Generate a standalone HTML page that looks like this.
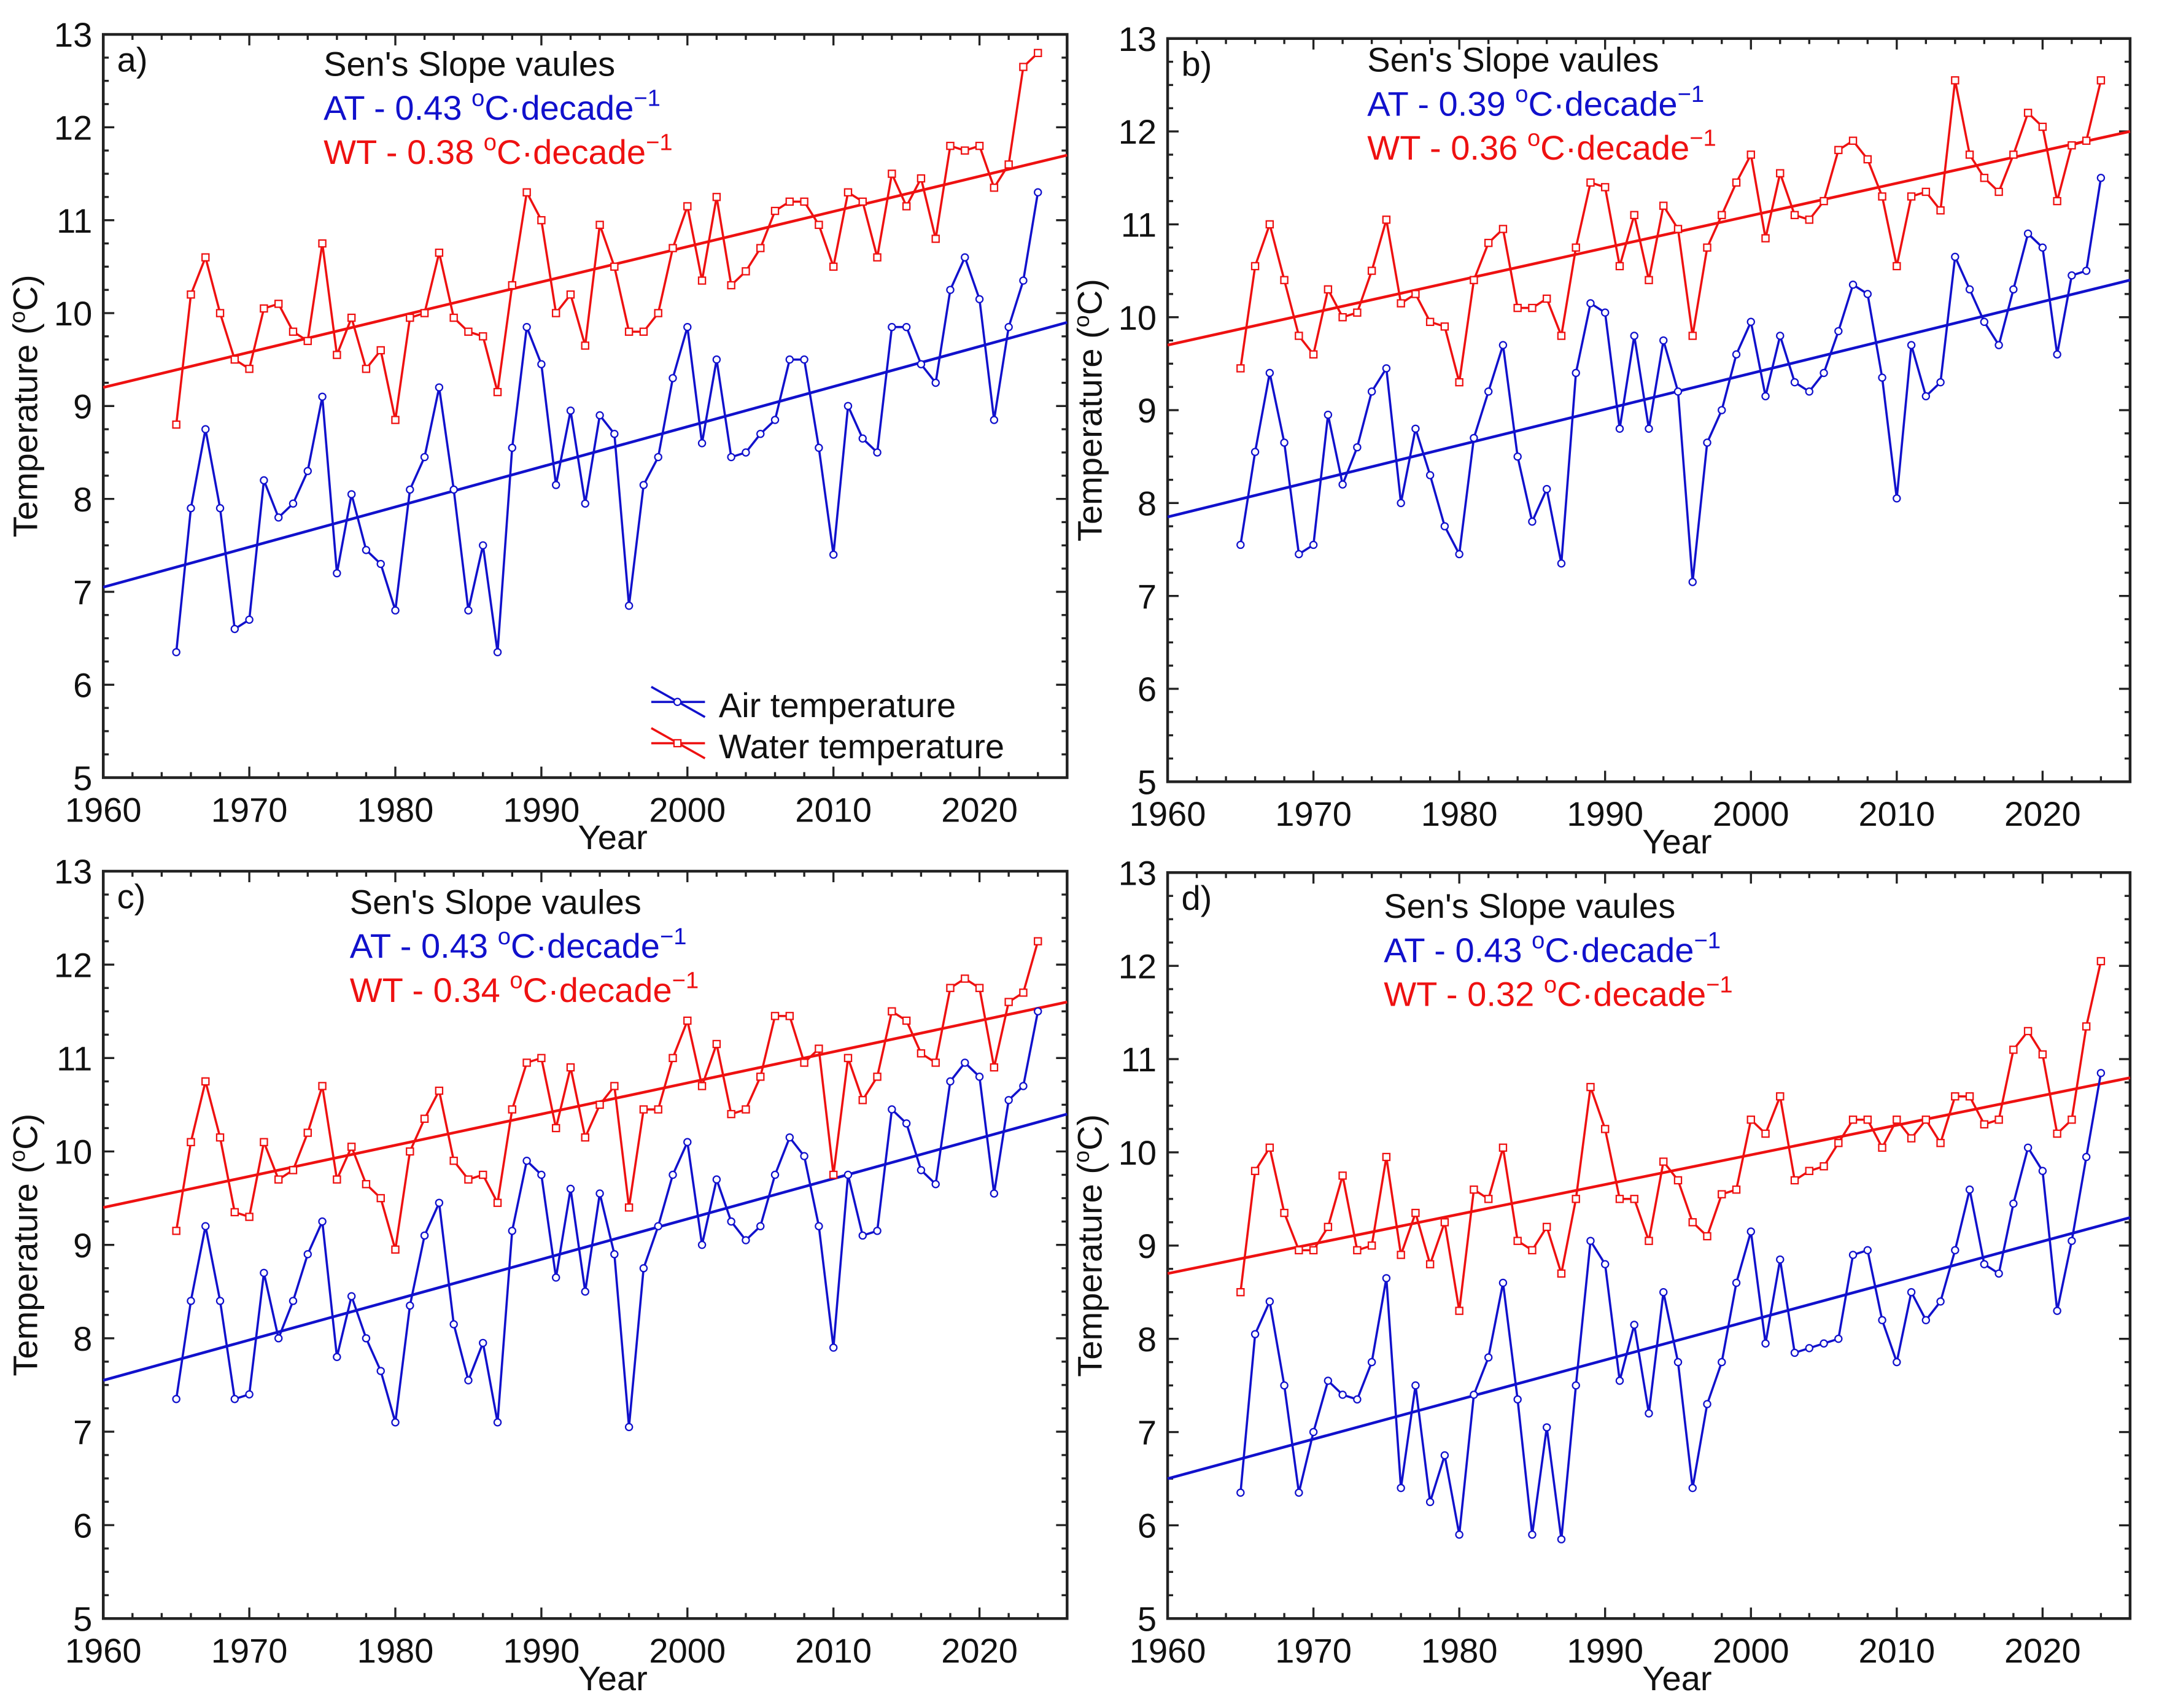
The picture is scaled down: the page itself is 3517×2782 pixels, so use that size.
<!DOCTYPE html>
<html><head><meta charset="utf-8"><style>
html,body{margin:0;padding:0;background:#fff;}
svg{display:block;font-family:"Liberation Sans Narrow","Liberation Sans",sans-serif;}
</style></head><body>
<svg id="fig" width="3517" height="2782" viewBox="0 0 1568 1241" preserveAspectRatio="none" xmlns="http://www.w3.org/2000/svg"></svg>
<script>
const years = Array.from({length:60},(_,i)=>1965+i);
const atA = [6.35,7.9,8.75,7.9,6.6,6.7,8.2,7.8,7.95,8.3,9.1,7.2,8.05,7.45,7.3,6.8,8.1,8.45,9.2,8.1,6.8,7.5,6.35,8.55,9.85,9.45,8.15,8.95,7.95,8.9,8.7,6.85,8.15,8.45,9.3,9.85,8.6,9.5,8.45,8.5,8.7,8.85,9.5,9.5,8.55,7.4,9.0,8.65,8.5,9.85,9.85,9.45,9.25,10.25,10.6,10.15,8.85,9.85,10.35,11.3];
const wtA = [8.8,10.2,10.6,10.0,9.5,9.4,10.05,10.1,9.8,9.7,10.75,9.55,9.95,9.4,9.6,8.85,9.95,10.0,10.65,9.95,9.8,9.75,9.15,10.3,11.3,11.0,10.0,10.2,9.65,10.95,10.5,9.8,9.8,10.0,10.7,11.15,10.35,11.25,10.3,10.45,10.7,11.1,11.2,11.2,10.95,10.5,11.3,11.2,10.6,11.5,11.15,11.45,10.8,11.8,11.75,11.8,11.35,11.6,12.65,12.8];
const atB = [7.55,8.55,9.4,8.65,7.45,7.55,8.95,8.2,8.6,9.2,9.45,8.0,8.8,8.3,7.75,7.45,8.7,9.2,9.7,8.5,7.8,8.15,7.35,9.4,10.15,10.05,8.8,9.8,8.8,9.75,9.2,7.15,8.65,9.0,9.6,9.95,9.15,9.8,9.3,9.2,9.4,9.85,10.35,10.25,9.35,8.05,9.7,9.15,9.3,10.65,10.3,9.95,9.7,10.3,10.9,10.75,9.6,10.45,10.5,11.5];
const wtB = [9.45,10.55,11.0,10.4,9.8,9.6,10.3,10.0,10.05,10.5,11.05,10.15,10.25,9.95,9.9,9.3,10.4,10.8,10.95,10.1,10.1,10.2,9.8,10.75,11.45,11.4,10.55,11.1,10.4,11.2,10.95,9.8,10.75,11.1,11.45,11.75,10.85,11.55,11.1,11.05,11.25,11.8,11.9,11.7,11.3,10.55,11.3,11.35,11.15,12.55,11.75,11.5,11.35,11.75,12.2,12.05,11.25,11.85,11.9,12.55];
const atC = [7.35,8.4,9.2,8.4,7.35,7.4,8.7,8.0,8.4,8.9,9.25,7.8,8.45,8.0,7.65,7.1,8.35,9.1,9.45,8.15,7.55,7.95,7.1,9.15,9.9,9.75,8.65,9.6,8.5,9.55,8.9,7.05,8.75,9.2,9.75,10.1,9.0,9.7,9.25,9.05,9.2,9.75,10.15,9.95,9.2,7.9,9.75,9.1,9.15,10.45,10.3,9.8,9.65,10.75,10.95,10.8,9.55,10.55,10.7,11.5];
const wtC = [9.15,10.1,10.75,10.15,9.35,9.3,10.1,9.7,9.8,10.2,10.7,9.7,10.05,9.65,9.5,8.95,10.0,10.35,10.65,9.9,9.7,9.75,9.45,10.45,10.95,11.0,10.25,10.9,10.15,10.5,10.7,9.4,10.45,10.45,11.0,11.4,10.7,11.15,10.4,10.45,10.8,11.45,11.45,10.95,11.1,9.75,11.0,10.55,10.8,11.5,11.4,11.05,10.95,11.75,11.85,11.75,10.9,11.6,11.7,12.25];
const atD = [6.35,8.05,8.4,7.5,6.35,7.0,7.55,7.4,7.35,7.75,8.65,6.4,7.5,6.25,6.75,5.9,7.4,7.8,8.6,7.35,5.9,7.05,5.85,7.5,9.05,8.8,7.55,8.15,7.2,8.5,7.75,6.4,7.3,7.75,8.6,9.15,7.95,8.85,7.85,7.9,7.95,8.0,8.9,8.95,8.2,7.75,8.5,8.2,8.4,8.95,9.6,8.8,8.7,9.45,10.05,9.8,8.3,9.05,9.95,10.85];
const wtD = [8.5,9.8,10.05,9.35,8.95,8.95,9.2,9.75,8.95,9.0,9.95,8.9,9.35,8.8,9.25,8.3,9.6,9.5,10.05,9.05,8.95,9.2,8.7,9.5,10.7,10.25,9.5,9.5,9.05,9.9,9.7,9.25,9.1,9.55,9.6,10.35,10.2,10.6,9.7,9.8,9.85,10.1,10.35,10.35,10.05,10.35,10.15,10.35,10.1,10.6,10.6,10.3,10.35,11.1,11.3,11.05,10.2,10.35,11.35,12.05];
// trend lines: [value at 1960, value at 2026]
const trendAtA=[7.05,9.9], trendWtA=[9.2,11.7];
const trendAtB=[7.85,10.4], trendWtB=[9.7,12.0];
const trendAtC=[7.55,10.4], trendWtC=[9.4,11.6];
const trendAtD=[6.5,9.3], trendWtD=[8.7,10.8];
const yTicks=[5,6,7,8,9,10,11,12,13];
const xTicks=[1960,1970,1980,1990,2000,2010,2020];
const slopeAT=["0.43","0.39","0.43","0.43"];
const slopeWT=["0.38","0.36","0.34","0.32"];

const NS="http://www.w3.org/2000/svg";
const svg=document.getElementById('fig');
function mk(tag,attrs,parent){const e=document.createElementNS(NS,tag);for(const k in attrs)e.setAttribute(k,attrs[k]);(parent||svg).appendChild(e);return e;}

const panels=[
 {id:'a',L:75,R:775,T:25,B:565,at:atA,wt:wtA,tat:trendAtA,twt:trendWtA,tx:235,ty:55,yr:445,legend:true},
 {id:'b',L:848,R:1547,T:28,B:568,at:atB,wt:wtB,tat:trendAtB,twt:trendWtB,tx:993,ty:52,yr:1218},
 {id:'c',L:75,R:775,T:633,B:1176,at:atC,wt:wtC,tat:trendAtC,twt:trendWtC,tx:254,ty:664,yr:445},
 {id:'d',L:848,R:1547,T:634,B:1176,at:atD,wt:wtD,tat:trendAtD,twt:trendWtD,tx:1005,ty:667,yr:1218}
];

panels.forEach((p,pi)=>{
 const g=mk('g',{});
 
 
 const pxYr=(p.R-p.L)/66;
 const X=y=>p.L+(y-1960)*pxYr;
 const Y=v=>p.B-(v-5)*(p.B-p.T)/8;
 const frame=mk('rect',{x:p.L,y:p.T,width:p.R-p.L,height:p.B-p.T,fill:'none',stroke:'#222','stroke-width':2},g);
 
 
 // minor ticks
 for(let yr=1960;yr<=2026;yr+=2){
  const len=(yr%10===0)?8:4;
  mk('line',{x1:X(yr),x2:X(yr),y1:p.B,y2:p.B-len,stroke:'#222','stroke-width':1.5},g);
  mk('line',{x1:X(yr),x2:X(yr),y1:p.T,y2:p.T+len,stroke:'#222','stroke-width':1.5},g);
 }
 for(let v=5;v<=13;v+=0.25){
  const len=(Math.abs(v-Math.round(v))<1e-6)?8:4;
  mk('line',{x1:p.L,x2:p.L+len,y1:Y(v),y2:Y(v),stroke:'#222','stroke-width':1.5},g);
  mk('line',{x1:p.R,x2:p.R-len,y1:Y(v),y2:Y(v),stroke:'#222','stroke-width':1.5},g);
 }
 yTicks.forEach(v=>{
  const t=mk('text',{x:p.L-8,y:Y(v)+9,'text-anchor':'end','font-size':25,fill:'#111'},g);
  t.textContent=v;
  
  
 });
 xTicks.forEach(v=>{
  const t=mk('text',{x:X(v),y:p.B+32,'text-anchor':'middle','font-size':25,fill:'#111'},g);
  t.textContent=v;
  
  
 });
 const xt=mk('text',{x:p.yr,y:p.B+52,'text-anchor':'middle','font-size':25,fill:'#111'},g);
 xt.textContent='Year';
 
 
 const cy=(p.T+p.B)/2, cx=p.L-48;
 const yt=mk('text',{x:cx,y:cy,'text-anchor':'middle','font-size':25,fill:'#111',transform:`rotate(-90 ${cx} ${cy})`},g);
 yt.innerHTML='Temperature (<tspan font-size="16" dy="-9">o</tspan><tspan dy="9">C)</tspan>';
 
 
 const lt=mk('text',{x:p.L+10,y:p.T+27,'font-size':25,fill:'#111'},g);
 lt.textContent=p.id+')';
 
 
 // trend lines
 [[p.twt,'#ee1111'],[p.tat,'#1111cc']].forEach(([tr,c])=>{
  const l=mk('line',{x1:X(1960),y1:Y(tr[0]),x2:X(2026),y2:Y(tr[1]),stroke:c,'stroke-width':2},g);
  
  
 });
 // series
 [[p.wt,'#ee1111','sq'],[p.at,'#1111cc','ci']].forEach(([arr,c,m])=>{
  const pl=mk('polyline',{points:arr.map((v,i)=>X(years[i])+','+Y(v)).join(' '),fill:'none',stroke:c,'stroke-width':1.6},g);
  
  
  arr.forEach((v,i)=>{
   let e;
   if(m==='sq') e=mk('rect',{x:X(years[i])-2.5,y:Y(v)-2.5,width:5,height:5,fill:'#fff',stroke:c,'stroke-width':1},g);
   else e=mk('circle',{cx:X(years[i]),cy:Y(v),r:2.5,fill:'#fff',stroke:c,'stroke-width':1},g);
   
   
  });
 });
 // annotations
 const a1=mk('text',{x:p.tx,y:p.ty,'font-size':25,fill:'#111'},g);
 a1.textContent="Sen's Slope vaules";
 
 
 const a2=mk('text',{x:p.tx,y:p.ty+32,'font-size':25,fill:'#1111cc'},g);
 a2.innerHTML='AT - '+slopeAT[pi]+' <tspan font-size="17" dy="-10">o</tspan><tspan dy="10">C·decade</tspan><tspan font-size="17" dy="-10">−1</tspan>';
 
 
 const a3=mk('text',{x:p.tx,y:p.ty+64,'font-size':25,fill:'#ee1111'},g);
 a3.innerHTML='WT - '+slopeWT[pi]+' <tspan font-size="17" dy="-10">o</tspan><tspan dy="10">C·decade</tspan><tspan font-size="17" dy="-10">−1</tspan>';
 
 
 if(p.legend){
  const lg=mk('g',{},g);
  
  
  [['Air temperature','#1111cc',513,'ci'],['Water temperature','#ee1111',543,'sq']].forEach(([txt,c,y,m])=>{
   mk('line',{x1:473,y1:y-14,x2:512,y2:y+8,stroke:c,'stroke-width':1.6},lg);
   mk('line',{x1:473,y1:y-3,x2:512,y2:y-3,stroke:c,'stroke-width':1.6},lg);
   if(m==='ci') mk('circle',{cx:492,cy:y-3,r:2.5,fill:'#fff',stroke:c},lg);
   else mk('rect',{x:489.5,y:y-5.5,width:5,height:5,fill:'#fff',stroke:c},lg);
   const t=mk('text',{x:522,y:y+8,'font-size':25,fill:'#111'},lg);
   t.textContent=txt;
   
   
  });
 }
});
</script>
</body></html>
